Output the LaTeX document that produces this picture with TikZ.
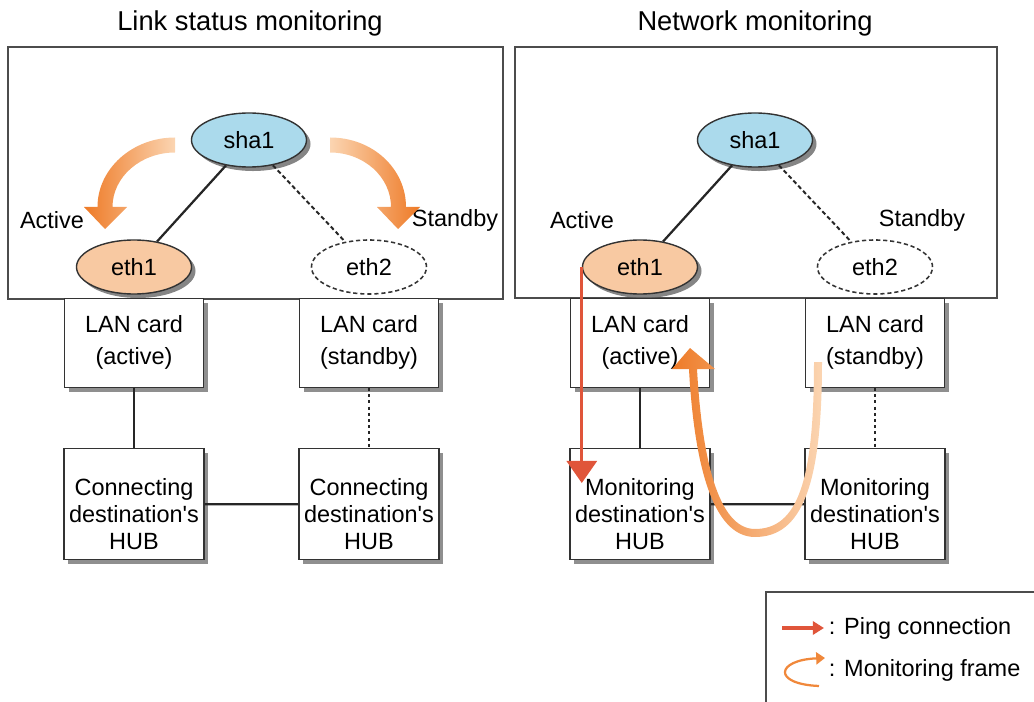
\documentclass[tikz,border=0pt]{standalone}
\usepackage{fontspec}
\setmainfont{Liberation Sans}
\usetikzlibrary{positioning}
\usetikzlibrary{arrows.meta, shapes, shadows, calc}

\definecolor{shablue}{HTML}{ABDAEC}
\definecolor{ethpeach}{HTML}{F8C9A2}
\definecolor{arrorange}{HTML}{EE7A26}
\definecolor{arrlight}{HTML}{FBD5B2}
\definecolor{pingred}{HTML}{E0553A}

\begin{document}
\begin{tikzpicture}[x=0.025cm, y=-0.025cm, font=\fontsize{16.7}{19.2}\selectfont]%

            \tikzstyle{panel} = [ draw = black!70, line width = 1pt]
            \tikzstyle{sha} = [ ellipse, line width = 1pt, draw = black!80, fill = shablue, minimum width = 2.875cm, minimum height = 1.35cm, inner sep = 0pt, drop shadow = {shadow xshift = 0.1cm, shadow yshift = -0.1cm, fill = black!60, opacity = 0.8}]
            \tikzstyle{eth} = [ sha, fill = ethpeach]
            \tikzstyle{ethsb} = [ ellipse, line width = 1.1pt, draw = black!80, dash pattern = on 3pt off 2pt, fill = white, minimum width = 2.875cm, minimum height = 1.35cm, inner sep = 0pt]
            \tikzstyle{card} = [ rectangle, line width = 1pt, draw = black!80, fill = white, minimum width = 3.475cm, minimum height = 2.225cm, align = center, font = \fontsize{16.7}{22.8}\selectfont, drop shadow = {shadow xshift = 0.11cm, shadow yshift = -0.11cm, fill = black!55, opacity = 0.8}]
            \tikzstyle{hub} = [ card, minimum width = 3.5cm, minimum height = 2.775cm, font = \fontsize{16.7}{19.2}\selectfont]
            \tikzstyle{link} = [ draw = black!85, line width = 1.6pt]
            \tikzstyle{sblink} = [ link, line width = 1.4pt, dash pattern = on 3pt off 2pt]
            \tikzstyle{sbdot} = [ link, line width = 1.4pt, dash pattern = on 2.2pt off 2.2pt]
            \tikzstyle{ping} = [ draw = pingred, line width = 2.2pt, -{Triangle[width = 0.75cm, length = 0.55cm]}]
            \tikzstyle{paneltitle} = [ font = \fontsize{19.4}{23}\selectfont]
            \tikzstyle{legendtxt} = [ anchor = west]

            \useasboundingbox (0,0) rectangle (1034,702);
        %%
            \begin{scope}[node distance = 1.5cm and 1.5cm]%
                %% Titles
                \node [paneltitle] (title_l) at (250,23) {Link status monitoring};
                \node [paneltitle] (title_r) at (755,23) {Network monitoring};

                %% Panels
                \draw [panel] (8,47) rectangle (503,299);
                \draw [panel] (515,47) rectangle (997,298);

                %% Link status monitoring
                \node [sha] (sha_l) at (249,140) {sha1};
                \node [eth] (eth1_l) at (134,267) {eth1};
                \node [ethsb] (eth2_l) at (369,267) {eth2};
                \node [card] (lan1_l) [below = 0.07cm of eth1_l] {LAN card\\(active)};
                \node [card] (lan2_l) [below = 0.07cm of eth2_l] {LAN card\\(standby)};
                \node [hub] (hub1_l) [below = of lan1_l] {\rule{0pt}{26pt}Connecting\\destination\textquotesingle s\\HUB};
                \node [hub] (hub2_l) [below = of lan2_l] {\rule{0pt}{26pt}Connecting\\destination\textquotesingle s\\HUB};

                \draw [link] (sha_l) -- (eth1_l);
                \draw [sblink] (sha_l) -- (eth2_l);
                \draw [link] (lan1_l) -- (hub1_l);
                \draw [sbdot] (lan2_l) -- (hub2_l);
                \draw [link] (hub1_l) -- (hub2_l);

                \node (act_l) at (52,220) {Active};
                \node (stb_l) at (455,220) {Standby};

                \shade [left color = arrorange, right color = arrlight] (175,137.5) .. controls (132,137.5) and (97.5,169) .. (97.5,207) -- (84,207) -- (105,229) -- (127,207) -- (112.5,207) .. controls (112.5,177) and (140.5,152.5) .. (175,152.5) -- cycle;
                \shade [left color = arrlight, right color = arrorange] (330,137.5) .. controls (373,137.5) and (406,169) .. (406,207) -- (420,207) -- (398,229) -- (377,207) -- (391,207) .. controls (391,177) and (364,152.5) .. (330,152.5) -- cycle;

                %% Network monitoring
                \node [sha] (sha_r) at (755,140) {sha1};
                \node [eth] (eth1_r) at (640,267) {eth1};
                \node [ethsb] (eth2_r) at (875,267) {eth2};
                \node [card] (lan1_r) [below = 0.07cm of eth1_r] {LAN card\\(active)};
                \node [card] (lan2_r) [below = 0.07cm of eth2_r] {LAN card\\(standby)};
                \node [hub] (hub1_r) [below = of lan1_r] {\rule{0pt}{26pt}Monitoring\\destination\textquotesingle s\\HUB};
                \node [hub] (hub2_r) [below = of lan2_r] {\rule{0pt}{26pt}Monitoring\\destination\textquotesingle s\\HUB};

                \draw [link] (sha_r) -- (eth1_r);
                \draw [sblink] (sha_r) -- (eth2_r);
                \draw [link] (lan1_r) -- (hub1_r);
                \draw [sbdot] (lan2_r) -- (hub2_r);
                \draw [link] (hub1_r) -- (hub2_r);

                \node (act_r) at (582,220) {Active};
                \node (stb_r) at (922,220) {Standby};

                \coordinate (ping_end) at ($(eth1_r.west)+(0,216)$);
                \draw [ping] (eth1_r.west) -- (ping_end);

                \shade [left color = arrorange, right color = arrlight] (822,362) .. controls (822,485) and (802,537) .. (755,537) .. controls (712,537) and (694,462) .. (689,369) -- (672,369) -- (690,348) -- (715,369) -- (697,369) .. controls (702,458) and (718,529) .. (755,529) .. controls (798,529) and (814,480) .. (814,362) -- cycle;

                %% Legend
                \draw [panel] (1034,592) -| (766,702);
                \node [legendtxt] (ping_txt) at (824,628) {: Ping connection};
                \node [legendtxt] (frame_txt) at (824,670) {: Monitoring frame};
                \coordinate (ping_a) at (782,628);
                \draw [ping, line width = 2.6pt, -{Triangle[width = 0.33cm, length = 0.28cm]}] (ping_a) -- (ping_txt.west);
                \coordinate (frame_a) at (819,686);
                \coordinate (frame_b) at (825,658);
                \draw [arrorange!85!arrlight, line width = 1.6pt, -{Triangle[width = 0.3cm, length = 0.22cm]}] (frame_a) .. controls (772,684) and (776,660) .. (frame_b);
            \end{scope}%
        \end{tikzpicture}
\end{document}
